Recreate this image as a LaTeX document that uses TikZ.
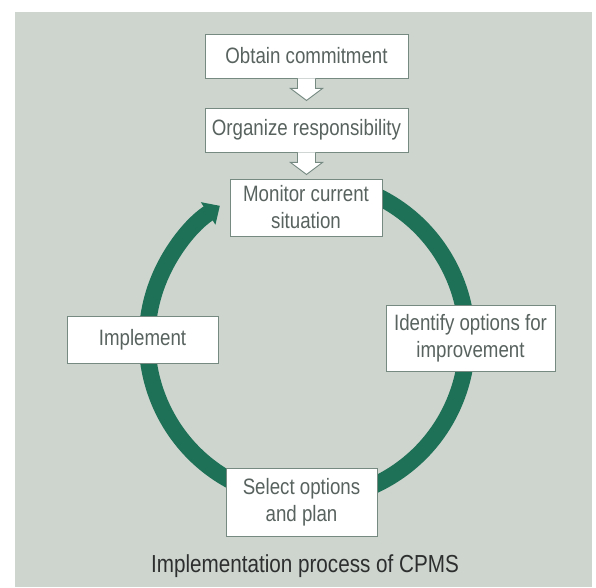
\documentclass[tikz,border=0pt]{standalone}
\usepackage{fontspec}
\setmainfont[FakeStretch=0.84]{Liberation Sans}
\usetikzlibrary{calc,arrows.meta}
\definecolor{panel}{RGB}{206,213,207}
\definecolor{ringgreen}{RGB}{30,112,86}
\definecolor{boxline}{RGB}{118,138,130}
\definecolor{boxtext}{RGB}{88,98,95}
\definecolor{captext}{RGB}{45,47,47}
\tikzset{
  stage/.style={draw=boxline,line width=0.8pt,fill=white,text=boxtext,align=center,
    font=\fontsize{19}{23}\selectfont,inner sep=0pt},
  hollow/.style={draw=boxline,line width=0.8pt,fill=white,line join=miter},
  ring/.style={draw=ringgreen,line width=0.5cm,-{Triangle[width=0.78cm,length=0.42cm]}}
}
\begin{document}
\begin{tikzpicture}[x=0.03cm,y=0.03cm]
    \useasboundingbox (0,0) rectangle (596,587);
    \fill[panel] (15,0) rectangle (592,575);
    \coordinate (c) at (307,247);
    % cycle
    \draw[ring] (c) ++(68:160) arc[start angle=68,end angle=-237,radius=160];
    \node[stage,minimum width=6.09cm,minimum height=1.32cm] (obtain) at (306.5,531) {Obtain commitment};
    \node[stage,minimum width=6.09cm,minimum height=1.32cm] (organize) at (306.5,457) {Organize responsibility};
    \node[stage,minimum width=4.56cm,minimum height=1.71cm] (monitor) at (306,379.5) {Monitor current\\situation};
    \node[stage,minimum width=5.07cm,minimum height=1.98cm] (identify) at (470.5,249) {Identify options for\\improvement};
    \node[stage,minimum width=4.53cm,minimum height=2.04cm] (select) at (301.5,85) {Select options\\and plan};
    \node[stage,minimum width=4.53cm,minimum height=1.41cm] (implement) at (142.5,247.5) {Implement};
    \draw[hollow] ($(obtain.south)+(-9,0)$) -- ++(0,-10) -- ++(-7,0) -- ++(16,-12) -- ++(16,12) -- ++(-7,0) -- ++(0,10);
    \draw[hollow] ($(organize.south)+(-9,0)$) -- ++(0,-10) -- ++(-7,0) -- ++(16,-12) -- ++(16,12) -- ++(-7,0) -- ++(0,10);
    \node[text=captext,font=\fontsize{21}{25}\selectfont] (caption) at (305,21) {Implementation process of CPMS};
\end{tikzpicture}
\end{document}
